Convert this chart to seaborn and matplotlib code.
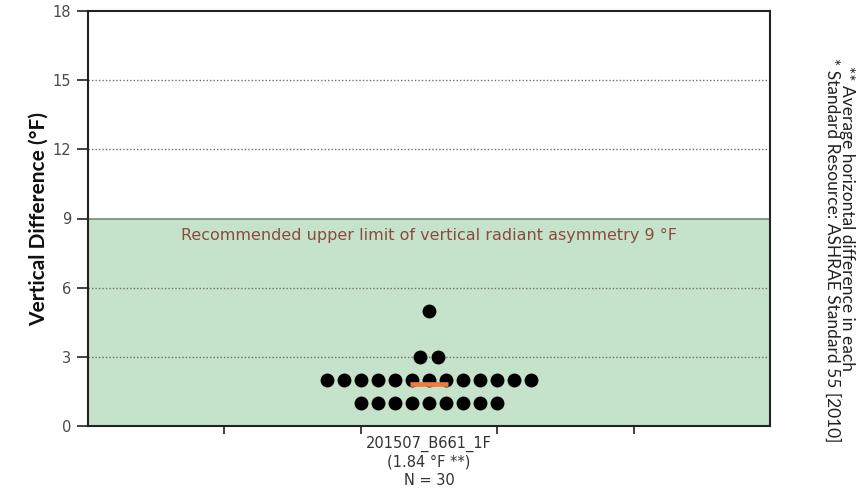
import numpy as np
import pandas as pd
import matplotlib
matplotlib.use("Agg")
import matplotlib.pyplot as plt
import seaborn as sns

# ---- data ----
group = "201507_B661_1F"
values = [1, 1, 1, 1, 1, 1, 1, 1, 1,
          2, 2, 2, 2, 2, 2, 2, 2, 2, 2, 2, 2, 2,
          3, 3,
          5]
n_label = "N = 30"
limit = 9
y_ticks = [0, 3, 6, 9, 12, 15, 18]
y_label = "Vertical Difference (°F)"
limit_text = "Recommended upper limit of vertical radiant asymmetry 9 °F"
note1 = "* Standard Resource: ASHRAE Standard 55 [2010]"
note2 = "** Average horizontal difference in each"

# dot-plot layout: identical values spread symmetrically around the category
dot_step = 0.025
df = pd.DataFrame({"value": values})
df["rank"] = df.groupby("value").cumcount()
df["count"] = df.groupby("value")["value"].transform("size")
df["x"] = (df["rank"] - (df["count"] - 1) / 2) * dot_step
mean_val = float(np.mean(values))

sns.set_theme(style="white")
plt.rcParams["font.family"] = ["DejaVu Sans"]

fig = plt.figure(figsize=(8.59, 4.97), dpi=100)
ax = fig.add_axes([88 / 859, 1 - 426 / 497, (770 - 88) / 859, (426 - 11) / 497])

green = "#C5E3CA"
ax.axhspan(0, limit, facecolor=green, edgecolor="none", zorder=0)
ax.axhline(limit, color="#6F8F74", lw=1.2, zorder=1)
for t in [3, 6, 12, 15]:
    ax.axhline(t, color="#6E6E6E", lw=1.0, ls=(0, (1, 1.5)), zorder=2)

sns.scatterplot(data=df, x="x", y="value", color="black", s=100,
                linewidth=0, ax=ax, zorder=3, legend=False)

ax.hlines(mean_val, -0.028, 0.028, color="#EE7B40", lw=3.4, zorder=5)

ax.set_xlim(-0.5, 0.5)
ax.set_ylim(0, 18)
ax.set_yticks(y_ticks)
ax.set_yticklabels([str(t) for t in y_ticks])

ax.set_xticks([-0.3, -0.1, 0.1, 0.3])
ax.set_xticklabels([])
ax.set_xticks([0], labels=[f"{group}\n({mean_val:.2f} °F **)\n{n_label}"], minor=True)
ax.tick_params(axis="x", which="major", direction="out", length=6, width=1.2,
               color="#222222", bottom=True)
ax.tick_params(axis="x", which="minor", length=0, pad=7, labelsize=10.5,
               labelcolor="#333333")
for lbl in ax.get_xticklabels(minor=True):
    lbl.set_linespacing(1.25)
ax.tick_params(axis="y", direction="out", length=8, width=1.2, color="#222222",
               labelsize=10.5, labelcolor="#4A4A4A", left=True, pad=4)
ax.set_xlabel("")
ax.set_ylabel(y_label, fontsize=15, fontweight="bold", family="Lato",
              color="#111111", labelpad=3)

for s in ax.spines.values():
    s.set_visible(True)
    s.set_color("#222222")
    s.set_linewidth(1.5)

ax.text(0, 8.25, limit_text, ha="center", va="center", fontsize=11.5,
        color="#8A4B40", zorder=4)

fig.text(832 / 859, 1 - 58 / 497, note1, rotation=270, ha="center", va="top",
         fontsize=12.5, family="Lato", color="#222222")
fig.text(847 / 859, 1 - 66 / 497, note2, rotation=270, ha="center", va="top",
         fontsize=12.5, family="Lato", color="#222222")

fig.savefig("out.png", dpi=100)
